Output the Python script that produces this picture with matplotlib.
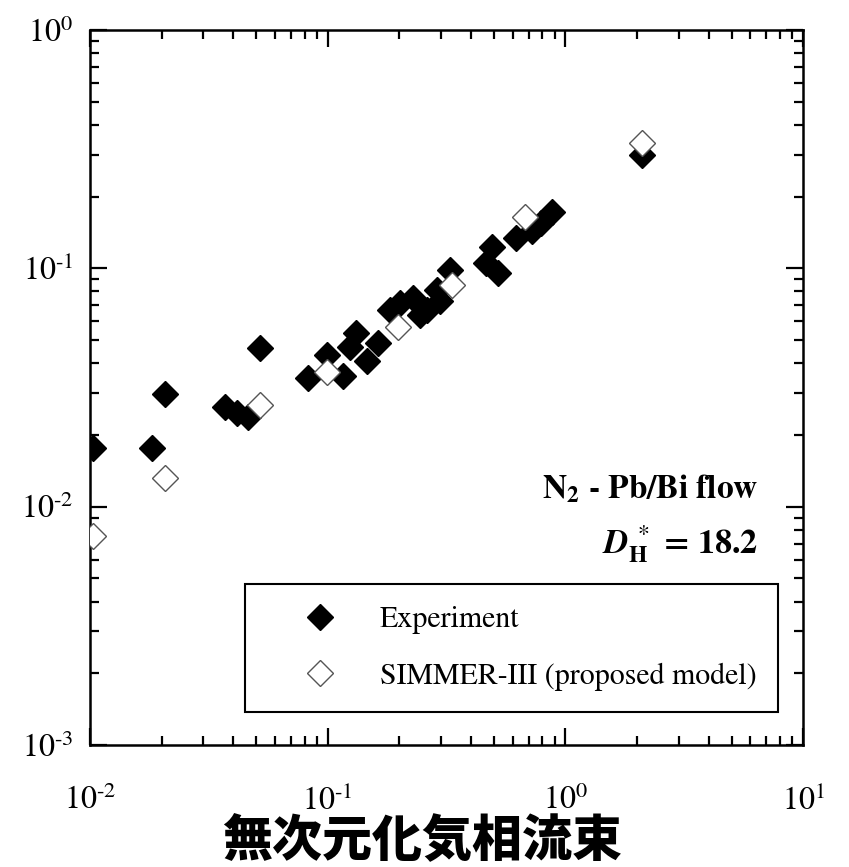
import math
import matplotlib
matplotlib.use('Agg')
import matplotlib.pyplot as plt
from matplotlib.ticker import FuncFormatter

# experiment (filled) points
exp_x = [0.0103, 0.0182, 0.0207, 0.0369, 0.0415, 0.0462, 0.0518, 0.0824,
         0.099, 0.116, 0.132, 0.124, 0.162, 0.147, 0.182, 0.201, 0.228,
         0.244, 0.287, 0.261, 0.326, 0.296, 0.49, 0.465, 0.518, 0.622,
         0.72, 0.79, 0.88, 2.1]
exp_y = [0.0177, 0.0177, 0.0298, 0.0261, 0.0248, 0.0237, 0.0461, 0.0345,
         0.0431, 0.0355, 0.0533, 0.0466, 0.0484, 0.041, 0.0666, 0.0713,
         0.0748, 0.0635, 0.0809, 0.0666, 0.098, 0.073, 0.123, 0.105,
         0.096, 0.134, 0.144, 0.155, 0.172, 0.298]

# SIMMER-III (open) points
sim_x = [0.0103, 0.0207, 0.0518, 0.099, 0.197, 0.332, 0.673, 2.1]
sim_y = [0.00755, 0.0132, 0.0268, 0.0369, 0.0565, 0.0849, 0.164, 0.335]

labels = ['Experiment', 'SIMMER-III (proposed model)']
xlabel = '無次元化気相流束'

plt.rcParams['font.family'] = ['STIXGeneral', 'DejaVu Sans']
plt.rcParams['mathtext.fontset'] = 'stix'


def pow10(v, pos):
    e = int(round(math.log10(v)))
    if e < 0:
        return r'$10^{\text{-}%d}$' % (-e)
    return r'$10^{%d}$' % e


fig = plt.figure(figsize=(8.49, 8.67), dpi=100)
ax = fig.add_axes([0.106, 0.1407, 0.840, 0.8247])

ax.plot(exp_x, exp_y, linestyle='none', marker='D', ms=13.5,
        mfc='black', mec='black', mew=1, label=labels[0], zorder=3)
ax.plot(sim_x, sim_y, linestyle='none', marker='D', ms=13.5,
        mfc='white', mec='#555555', mew=1, label=labels[1], zorder=4)

ax.set_xscale('log')
ax.set_yscale('log')
ax.set_xlim(1e-2, 1e1)
ax.set_ylim(1e-3, 1e0)
ax.xaxis.set_major_formatter(FuncFormatter(pow10))
ax.yaxis.set_major_formatter(FuncFormatter(pow10))

for s in ax.spines.values():
    s.set_linewidth(1.8)
ax.tick_params(which='both', direction='in', top=True, right=True,
               width=1.6, labelsize=23)
ax.tick_params(which='major', length=12)
ax.tick_params(which='minor', length=6.5)
ax.tick_params(axis='x', which='major', pad=29)
ax.tick_params(axis='y', which='major', pad=12)

ax.text(0.937, 0.345, r'$\mathbf{N_2}$ - Pb/Bi flow', transform=ax.transAxes,
        ha='right', va='baseline', fontsize=24, fontweight='bold')
ax.text(0.937, 0.267, r'$\mathbfit{D}_\mathbf{H}^{\ *}$ = 18.2',
        transform=ax.transAxes, ha='right', va='baseline',
        fontsize=24.5, fontweight='bold')

leg = ax.legend(loc='lower right', bbox_to_anchor=(0.965, 0.046),
                borderaxespad=0, fontsize=21.5, fancybox=False,
                edgecolor='black', framealpha=1, handlelength=3.6,
                handletextpad=0.2, labelspacing=0.95, borderpad=0.72,
                numpoints=1)
leg.get_frame().set_linewidth(1.5)

ax.set_xlabel(xlabel, family=['Noto Sans CJK JP'], fontweight='heavy',
              fontsize=36, va='center')
ax.xaxis.set_label_coords(0.466, -0.133)

fig.savefig('out.png', dpi=100)
